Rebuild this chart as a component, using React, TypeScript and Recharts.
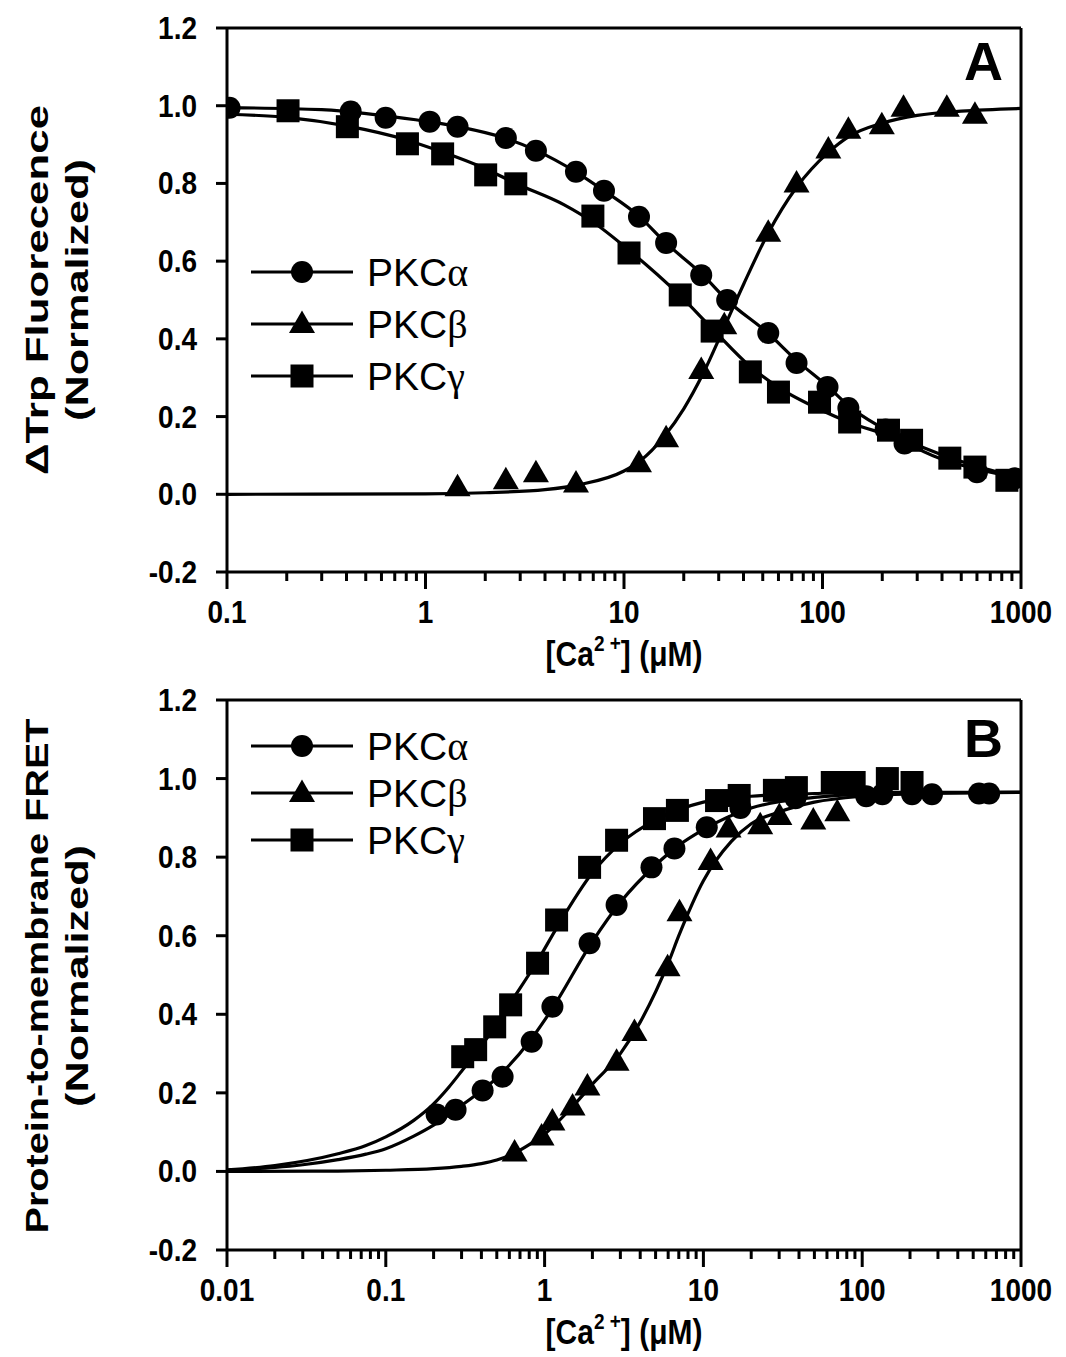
import React from 'react';
import { ComposedChart, Scatter, Line, XAxis, YAxis, ReferenceLine, Legend, Label } from 'recharts';

const SANS = '"Liberation Sans", Arial, Helvetica, sans-serif';
const SERIF = '"Liberation Serif", "DejaVu Serif", serif';

// ---------------- Panel A : ΔTrp fluorescence ----------------
const aAlphaX = [0.103, 0.42, 0.63, 1.05, 1.45, 2.54, 3.6, 5.73, 7.93, 11.9, 16.3, 24.5, 33.1, 53.3, 74, 106, 135, 208, 259, 600, 933];
const aAlphaY = [0.995, 0.985, 0.969, 0.959, 0.946, 0.917, 0.884, 0.83, 0.781, 0.714, 0.647, 0.564, 0.5, 0.415, 0.338, 0.276, 0.222, 0.167, 0.131, 0.057, 0.041];
const aBetaX = [1.45, 2.54, 3.6, 5.73, 11.9, 16.3, 24.5, 32, 53.3, 74, 107, 135, 199, 256, 423, 586];
const aBetaY = [0.018, 0.036, 0.054, 0.028, 0.08, 0.144, 0.32, 0.435, 0.673, 0.8, 0.887, 0.938, 0.95, 0.995, 0.995, 0.977];
const aGammaX = [0.203, 0.404, 0.811, 1.22, 2.01, 2.85, 6.97, 10.6, 19.2, 27.8, 43.3, 60, 96.6, 137, 215, 281, 438, 586, 849];
const aGammaY = [0.987, 0.946, 0.902, 0.876, 0.822, 0.799, 0.716, 0.621, 0.513, 0.42, 0.315, 0.263, 0.237, 0.186, 0.165, 0.139, 0.093, 0.07, 0.036];

// fitted curves
const aAlphaFitX = [0.1, 0.3, 0.6, 1, 1.5, 2.5, 3.6, 5.7, 8, 12, 16, 25, 33, 53, 75, 106, 135, 208, 260, 400, 600, 1000];
const aAlphaFitY = [0.995, 0.99, 0.975, 0.96, 0.945, 0.917, 0.885, 0.83, 0.78, 0.714, 0.65, 0.564, 0.5, 0.415, 0.342, 0.278, 0.228, 0.165, 0.135, 0.09, 0.065, 0.04];
const aBetaFitX = [0.1, 1, 2, 4, 6, 10, 12, 16, 20, 25, 32, 40, 53, 74, 107, 135, 200, 300, 500, 1000];
const aBetaFitY = [0, 0.001, 0.004, 0.012, 0.025, 0.06, 0.085, 0.15, 0.22, 0.31, 0.43, 0.54, 0.67, 0.79, 0.88, 0.92, 0.955, 0.975, 0.986, 0.993];
const aGammaFitX = [0.1, 0.2, 0.4, 0.8, 1.2, 2, 2.85, 5, 7, 10.6, 19, 28, 43, 60, 100, 137, 215, 280, 440, 600, 1000];
const aGammaFitY = [0.978, 0.97, 0.948, 0.912, 0.882, 0.838, 0.8, 0.745, 0.7, 0.628, 0.513, 0.425, 0.33, 0.275, 0.215, 0.185, 0.152, 0.132, 0.094, 0.072, 0.042];

// ---------------- Panel B : protein-to-membrane FRET ----------------
const bAlphaX = [0.209, 0.275, 0.407, 0.544, 0.829, 1.12, 1.92, 2.84, 4.71, 6.57, 10.5, 17.1, 38, 106, 134, 206, 275, 544, 630];
const bAlphaY = [0.145, 0.157, 0.206, 0.241, 0.33, 0.419, 0.581, 0.678, 0.774, 0.822, 0.876, 0.925, 0.95, 0.955, 0.96, 0.96, 0.96, 0.962, 0.962];
const bBetaX = [0.647, 0.957, 1.12, 1.5, 1.86, 2.84, 3.68, 5.95, 7.07, 11.1, 14.4, 22.8, 30.1, 49.2, 69.7];
const bBetaY = [0.048, 0.089, 0.127, 0.165, 0.216, 0.279, 0.355, 0.52, 0.66, 0.79, 0.873, 0.881, 0.905, 0.893, 0.914];
const bGammaX = [0.305, 0.368, 0.485, 0.611, 0.903, 1.19, 1.92, 2.84, 4.92, 6.86, 12.1, 16.8, 28, 38.5, 64.8, 89, 144, 206];
const bGammaY = [0.292, 0.31, 0.368, 0.424, 0.53, 0.64, 0.774, 0.843, 0.898, 0.919, 0.944, 0.957, 0.97, 0.977, 0.99, 0.99, 1.0, 0.99];

const bAlphaFitX = [0.01, 0.02, 0.03, 0.05, 0.075, 0.1, 0.15, 0.2, 0.3, 0.5, 0.8, 1.1, 2, 3, 5, 7, 10, 20, 50, 100, 1000];
const bAlphaFitY = [0.003, 0.01, 0.017, 0.03, 0.044, 0.058, 0.09, 0.118, 0.168, 0.238, 0.33, 0.41, 0.585, 0.685, 0.78, 0.83, 0.87, 0.925, 0.952, 0.96, 0.965];
const bBetaFitX = [0.01, 0.05, 0.1, 0.2, 0.3, 0.4, 0.5, 0.65, 0.8, 1, 1.5, 2, 3, 4, 6, 7, 10, 15, 20, 30, 50, 100, 300, 1000];
const bBetaFitY = [0, 0.001, 0.003, 0.007, 0.013, 0.02, 0.029, 0.047, 0.068, 0.095, 0.165, 0.222, 0.3, 0.38, 0.53, 0.6, 0.74, 0.84, 0.885, 0.915, 0.94, 0.955, 0.963, 0.965];
const bGammaFitX = [0.01, 0.02, 0.05, 0.075, 0.1, 0.15, 0.2, 0.25, 0.3, 0.4, 0.5, 0.6, 0.9, 1.2, 2, 3, 5, 10, 20, 50, 100, 1000];
const bGammaFitY = [0.004, 0.015, 0.045, 0.066, 0.088, 0.13, 0.172, 0.215, 0.255, 0.32, 0.375, 0.425, 0.535, 0.622, 0.76, 0.835, 0.895, 0.94, 0.955, 0.962, 0.965, 0.965];

// ---------------- axes / labels ----------------
const yTicks = [-0.2, 0, 0.2, 0.4, 0.6, 0.8, 1.0, 1.2];
const aDecades = [0.1, 1, 10, 100, 1000];
const bDecades = [0.01, 0.1, 1, 10, 100, 1000];
const seriesPrefix = ['PKC', 'PKC', 'PKC'];
const seriesGreek = ['α', 'β', 'γ'];
const seriesShapes = ['circle', 'triangle', 'square'];
const aYTitle = ['ΔTrp Fluorecence', '(Normalized)'];
const bYTitle = ['Protein-to-membrane FRET', '(Normalized)'];

const STRETCH = 1.15;

const zip = (xs: number[], ys: number[]) => xs.map((x, i) => ({ x, y: ys[i] }));

const withMinor = (decades: number[]) => {
  const out: number[] = [];
  decades.forEach((d, i) => {
    out.push(d);
    if (i < decades.length - 1) for (let k = 2; k <= 9; k++) out.push(+(d * k).toPrecision(6));
  });
  return out;
};

const isDecade = (v: number) => Math.abs(Math.log10(v) - Math.round(Math.log10(v))) < 1e-6;

const drawMarker = (kind: string, cx: number, cy: number, key?: any) => {
  if (kind === 'circle') return <circle key={key} cx={cx} cy={cy} r={11} fill="#000" />;
  if (kind === 'square') return <rect key={key} x={cx - 11.5} y={cy - 11.5} width={23} height={23} fill="#000" />;
  return <polygon key={key} points={`${cx},${cy - 13.5} ${cx + 13},${cy + 9} ${cx - 13},${cy + 9}`} fill="#000" />;
};

const shapeFor = (kind: string) => (p: any) => {
  if (p.cx == null || p.cy == null) return <g />;
  return drawMarker(kind, p.cx, p.cy);
};

const XTick = (props: any) => {
  const { x, y, payload } = props;
  const v = payload.value;
  const major = isDecade(v);
  return (
    <g>
      <line x1={x} x2={x} y1={y} y2={y + (major ? 17 : 9)} stroke="#000" strokeWidth={3} />
      {major && (
        <text
          transform={`translate(${x},${y + 51}) scale(1,${STRETCH})`}
          x={0}
          y={0}
          textAnchor="middle"
          fontFamily={SANS}
          fontWeight="bold"
          fontSize={28}
          fill="#000"
        >
          {String(v)}
        </text>
      )}
    </g>
  );
};

const YTick = (props: any) => {
  const { x, y, payload } = props;
  const v = payload.value;
  return (
    <g>
      <line x1={x - 11} x2={x} y1={y} y2={y} stroke="#000" strokeWidth={3} />
      <text
        transform={`translate(${x - 30},${y + 11}) scale(1,${STRETCH})`}
        x={0}
        y={0}
        textAnchor="end"
        fontFamily={SANS}
        fontWeight="bold"
        fontSize={28}
        fill="#000"
      >
        {v.toFixed(1)}
      </text>
    </g>
  );
};

const makeLegend = (rowGap: number) => () => (
  <svg width={300} height={rowGap * 2 + 60} style={{ overflow: 'visible' }}>
    {seriesPrefix.map((p, i) => {
      const cy = 30 + i * rowGap;
      return (
        <g key={i}>
          <line x1={6} x2={108} y1={cy} y2={cy} stroke="#000" strokeWidth={3} />
          {drawMarker(seriesShapes[i], 57, cy)}
          <text x={122} y={cy + 14} fontFamily={SANS} fontSize={39} fill="#000">
            {p}
            <tspan fontFamily={SERIF} fontSize={40}>{seriesGreek[i]}</tspan>
          </text>
        </g>
      );
    })}
  </svg>
);

type PanelProps = {
  top: number;
  xDomain: [number, number];
  decades: number[];
  xAxisHeight: number;
  yTitle: string[];
  yTitleCenter: number;
  yTitleLen: number[];
  letter: string;
  letterY: number;
  legendTop: number;
  legendGap: number;
  series: { pts: { x: number; y: number }[]; fit: { x: number; y: number }[]; shape: string }[];
};

function Panel(p: PanelProps) {
  const ticks = withMinor(p.decades);
  return (
    <div style={{ position: 'absolute', left: 0, top: p.top }}>
      <ComposedChart width={1066} height={680} margin={{ top: 28, right: 45, bottom: 0, left: 0 }}>
        <XAxis
          dataKey="x"
          type="number"
          scale="log"
          domain={p.xDomain}
          allowDataOverflow
          ticks={ticks}
          interval={0}
          tickLine={false}
          tickSize={0}
          tickMargin={0}
          tick={<XTick />}
          height={p.xAxisHeight}
          axisLine={{ stroke: '#000', strokeWidth: 3 }}
        >
          <Label
            content={(lp: any) => {
              const vb = lp.viewBox || { x: 227, y: 572, width: 794 };
              const cx = vb.x + vb.width / 2;
              return (
                <g>
                  <text
                    transform={`translate(${cx},${vb.y + 94}) scale(1,${STRETCH})`}
                    x={0}
                    y={0}
                    textAnchor="middle"
                    fontFamily={SANS}
                    fontWeight="bold"
                    fontSize={30}
                    fill="#000"
                  >
                    [Ca
                    <tspan dy={-13} fontSize={19}>2 +</tspan>
                    <tspan dy={13}>] (μM)</tspan>
                  </text>
                  <text x={1003} y={p.letterY} textAnchor="end" fontFamily={SANS} fontWeight="bold" fontSize={54} fill="#000">
                    {p.letter}
                  </text>
                </g>
              );
            }}
          />
        </XAxis>
        <YAxis
          dataKey="y"
          type="number"
          domain={[-0.2, 1.2]}
          allowDataOverflow
          ticks={yTicks}
          interval={0}
          tickLine={false}
          tickSize={0}
          tickMargin={0}
          tick={<YTick />}
          width={227}
          axisLine={{ stroke: '#000', strokeWidth: 3 }}
        >
          <Label
            content={() => (
              <g>
                {p.yTitle.map((t, i) => {
                  const cx = i === 0 ? 37 : 77;
                  return (
                    <text
                      key={i}
                      x={cx}
                      y={p.yTitleCenter}
                      transform={`rotate(-90, ${cx}, ${p.yTitleCenter})`}
                      textAnchor="middle"
                      dominantBaseline="central"
                      fontFamily={SANS}
                      fontWeight="bold"
                      fontSize={32}
                      textLength={p.yTitleLen[i]}
                      lengthAdjust="spacingAndGlyphs"
                      fill="#000"
                    >
                      {t}
                    </text>
                  );
                })}
              </g>
            )}
          />
        </YAxis>
        <ReferenceLine y={1.2} stroke="#000" strokeWidth={3} ifOverflow="visible" />
        <ReferenceLine x={p.xDomain[1]} stroke="#000" strokeWidth={3} ifOverflow="visible" />
        {p.series.map((s, i) => (
          <Line
            key={'fit' + i}
            data={s.fit}
            dataKey="y"
            type="monotone"
            dot={false}
            activeDot={false}
            stroke="#000"
            strokeWidth={3.2}
            isAnimationActive={false}
            legendType="none"
          />
        ))}
        {p.series.map((s, i) => (
          <Scatter
            key={'pts' + i}
            data={s.pts}
            dataKey="y"
            shape={shapeFor(s.shape)}
            isAnimationActive={false}
            legendType="none"
          />
        ))}
        <Legend
          layout="vertical"
          align="center"
          verticalAlign="middle"
          content={makeLegend(p.legendGap)}
          wrapperStyle={{ left: 245, top: p.legendTop, width: 300 }}
        />
      </ComposedChart>
    </div>
  );
}

export default function App() {
  return (
    <div style={{ position: 'absolute', left: 0, top: 0, width: 1066, height: 1357, background: '#fff' }}>
      <Panel
        top={0}
        xDomain={[0.1, 1000]}
        decades={aDecades}
        xAxisHeight={108}
        yTitle={aYTitle}
        yTitleCenter={290}
        yTitleLen={[370, 262]}
        letter="A"
        letterY={80}
        legendTop={242}
        legendGap={52}
        series={[
          { pts: zip(aAlphaX, aAlphaY), fit: zip(aAlphaFitX, aAlphaFitY), shape: seriesShapes[0] },
          { pts: zip(aBetaX, aBetaY), fit: zip(aBetaFitX, aBetaFitY), shape: seriesShapes[1] },
          { pts: zip(aGammaX, aGammaY), fit: zip(aGammaFitX, aGammaFitY), shape: seriesShapes[2] },
        ]}
      />
      <Panel
        top={672}
        xDomain={[0.01, 1000]}
        decades={bDecades}
        xAxisHeight={102}
        yTitle={bYTitle}
        yTitleCenter={304}
        yTitleLen={[515, 262]}
        letter="B"
        letterY={85}
        legendTop={44}
        legendGap={47}
        series={[
          { pts: zip(bAlphaX, bAlphaY), fit: zip(bAlphaFitX, bAlphaFitY), shape: seriesShapes[0] },
          { pts: zip(bBetaX, bBetaY), fit: zip(bBetaFitX, bBetaFitY), shape: seriesShapes[1] },
          { pts: zip(bGammaX, bGammaY), fit: zip(bGammaFitX, bGammaFitY), shape: seriesShapes[2] },
        ]}
      />
    </div>
  );
}
